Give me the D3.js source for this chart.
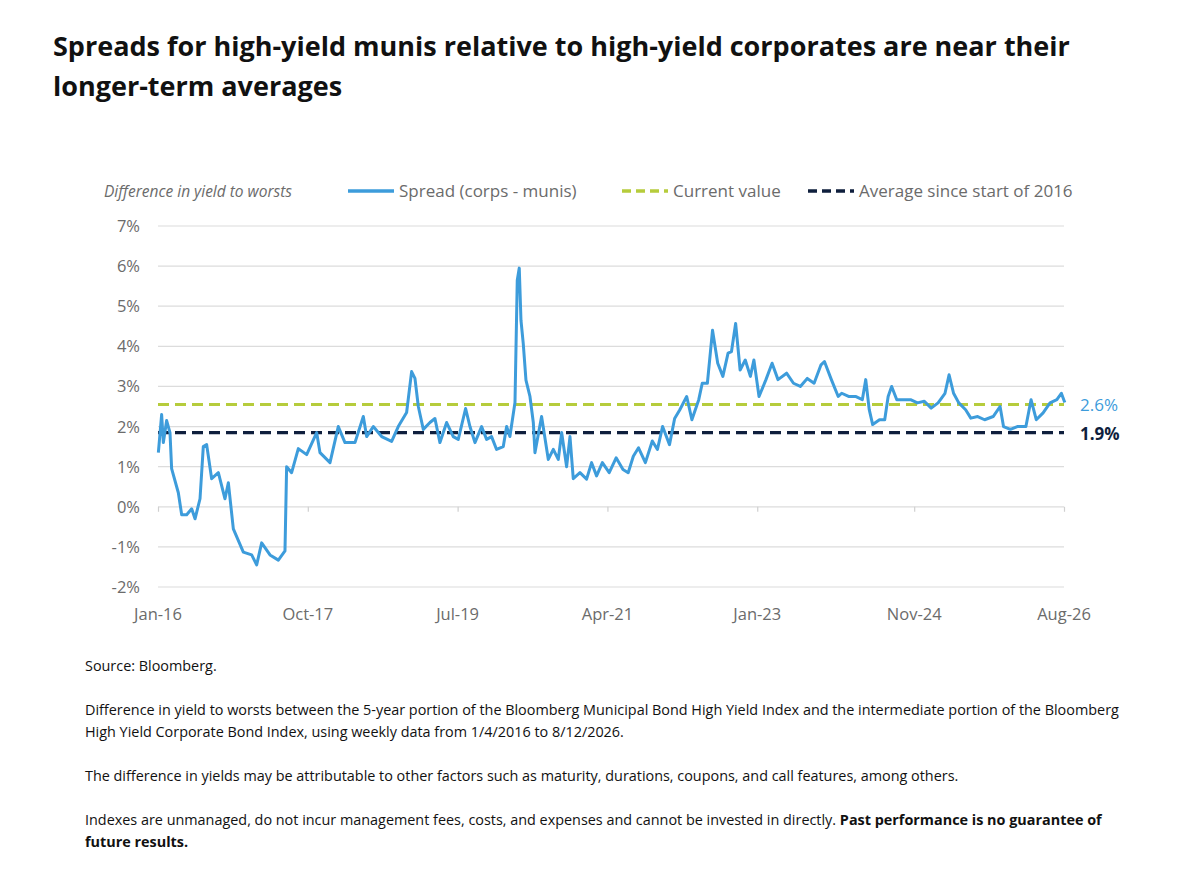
<!DOCTYPE html>
<html>
<head>
<meta charset="utf-8">
<script src="https://cdn.jsdelivr.net/npm/d3@7"></script>
<style>
  body { margin: 0; background: #fff; font-family: "Open Sans", "Noto Sans", sans-serif; }
  h1 { position: absolute; left: 53px; top: 26px; margin: 0; width: 1112px; font-size: 27px; line-height: 40px; font-weight: 700; color: #111; }
  .notes { position: absolute; left: 85px; top: 655px; width: 1045px; font-size: 14.4px; line-height: 22px; color: #111; }
  .notes p { margin: 0 0 22px 0; }
</style>
</head>
<body>
<h1>Spreads for high-yield munis relative to high-yield corporates are near their longer-term averages</h1>
<svg id="chart" width="1196" height="650" style="position:absolute;left:0;top:0"></svg>
<div class="notes">
  <p>Source: Bloomberg.</p>
  <p>Difference in yield to worsts between the 5-year portion of the Bloomberg Municipal Bond High Yield Index and the intermediate portion of the Bloomberg High Yield Corporate Bond Index, using weekly data from 1/4/2016 to 8/12/2026.</p>
  <p>The difference in yields may be attributable to other factors such as maturity, durations, coupons, and call features, among others.</p>
  <p>Indexes are unmanaged, do not incur management fees, costs, and expenses and cannot be invested in directly. <b>Past performance is no guarantee of future results.</b></p>
</div>
<script>
// Months since Jan 2016 for each sampled point
const months = [0.05,0.51,0.75,1.21,1.68,1.91,2.85,3.32,4.02,4.72,5.19,5.89,6.35,6.82,7.52,8.46,9.39,9.86,10.56,11.96,
  13.13,13.83,14.53,15.70,16.87,17.80,18.03,18.73,19.67,20.84,22.24,22.71,24.11,25.27,26.21,27.61,28.78,29.25,30.18,31.35,
  32.75,33.68,34.85,35.55,36.02,36.49,37.19,38.12,38.82,39.52,40.46,41.39,42.09,43.12,43.73,44.43,45.36,46.06,46.76,47.46,
  48.40,48.87,49.33,50.04,50.36,50.64,50.88,51.20,51.58,52.14,52.61,52.84,53.77,54.71,55.41,56.11,56.58,57.28,57.75,58.21,
  59.15,60.08,60.78,61.48,62.29,63.25,64.22,65.18,65.91,66.63,67.36,68.32,69.29,70.01,70.73,71.70,72.42,73.15,74.11,74.84,
  75.80,76.29,77.01,77.73,78.46,79.18,79.91,80.39,80.97,81.60,82.32,83.04,83.53,84.25,85.22,86.08,86.91,88.11,89.08,90.04,
  91.01,91.97,92.94,93.42,94.39,95.35,95.84,96.80,97.77,98.73,99.21,99.70,100.18,101.14,101.87,102.35,102.84,103.56,104.52,105.49,
  106.45,107.42,108.38,109.35,110.32,110.89,111.52,112.25,113.21,113.94,114.90,115.87,117.07,118.04,118.52,119.49,120.45,121.66,122.38,123.11,
  124.07,125.04,126.00,126.63,127.11];
// Spread (corps - munis), %
const spread = [1.35,2.3,1.6,2.15,1.85,0.95,0.35,-0.2,-0.2,-0.05,-0.3,0.2,1.5,1.55,0.7,0.85,0.2,0.6,-0.55,-1.13,
  -1.2,-1.45,-0.9,-1.2,-1.33,-1.1,1.0,0.85,1.45,1.3,1.85,1.35,1.1,2.0,1.6,1.6,2.25,1.75,2.0,1.75,
  1.63,2.0,2.35,3.37,3.2,2.5,1.93,2.1,2.2,1.6,2.1,1.75,1.68,2.45,2.0,1.6,2.0,1.68,1.75,1.43,
  1.5,2.0,1.75,2.6,5.65,5.95,4.65,4.07,3.16,2.75,2.1,1.35,2.25,1.18,1.43,1.18,1.85,1.0,1.75,0.7,
  0.85,0.69,1.1,0.77,1.1,0.85,1.22,0.93,0.85,1.26,1.47,1.1,1.64,1.43,2.0,1.55,2.2,2.42,2.75,2.17,
  2.67,3.08,3.08,4.4,3.58,3.25,3.83,3.87,4.57,3.41,3.66,3.25,3.66,2.75,3.17,3.58,3.17,3.33,3.08,3.0,
  3.2,3.08,3.54,3.62,3.17,2.75,2.83,2.75,2.75,2.67,3.17,2.42,2.05,2.17,2.17,2.75,3.0,2.67,2.67,2.67,
  2.59,2.63,2.46,2.59,2.83,3.29,2.83,2.59,2.42,2.21,2.25,2.17,2.25,2.5,2.0,1.93,2.0,2.0,2.67,2.17,
  2.34,2.59,2.67,2.83,2.6];
const currentValue = 2.6;
const averageValue = 1.9;
const yTicks = [-2, -1, 0, 1, 2, 3, 4, 5, 6, 7];
const xTickLabels = ["Jan-16", "Oct-17", "Jul-19", "Apr-21", "Jan-23", "Nov-24", "Aug-26"];
const xTickMonths = [0, 21, 42, 63, 84, 106, 127];

const blue = "#3d9cdb", green = "#b6cc3c", navy = "#0f1f3d", grey = "#6b6b6b";
const x0 = 158, x1 = 1064;

const svg = d3.select("#chart");
const x = d3.scaleLinear().domain([0, 127]).range([x0, x1]);
const y = d3.scaleLinear().domain([-2, 7]).range([587, 226]);

// gridlines
svg.append("g").selectAll("line").data(yTicks).enter().append("line")
  .attr("x1", x0).attr("x2", x1)
  .attr("y1", d => y(d)).attr("y2", d => y(d))
  .attr("stroke", "#dcdcdc").attr("stroke-width", 1.2);

// y labels
svg.append("g").selectAll("text").data(yTicks).enter().append("text")
  .attr("x", 140).attr("y", d => y(d) + 6)
  .attr("text-anchor", "end").attr("font-size", 16.5).attr("fill", grey)
  .text(d => d + "%");

// x axis on the 0% line
const xAxis = d3.axisBottom(x).tickValues(xTickMonths).tickSize(5).tickFormat("");
const gx = svg.append("g").attr("transform", `translate(0,${y(0)})`).call(xAxis);
gx.select(".domain").remove();
gx.selectAll("line").attr("stroke", "#d0d0d0").attr("stroke-width", 1.2);

svg.append("g").selectAll("text").data(xTickMonths).enter().append("text")
  .attr("x", d => x(d)).attr("y", 620)
  .attr("text-anchor", "middle").attr("font-size", 16.5).attr("fill", grey)
  .text((d, i) => xTickLabels[i]);

// reference lines
function refLine(v, color) {
  svg.append("line").attr("x1", x0).attr("x2", x1)
    .attr("y1", y(v) + 2).attr("y2", y(v) + 2)
    .attr("stroke", color).attr("stroke-width", 3.2).attr("stroke-dasharray", "11,6");
}
refLine(currentValue, green);
refLine(averageValue, navy);

// spread line
const pts = months.map((m, i) => [m, spread[i]]);
svg.append("path").datum(pts)
  .attr("fill", "none").attr("stroke", blue).attr("stroke-width", 3)
  .attr("stroke-linejoin", "round")
  .attr("d", d3.line().x(d => x(d[0])).y(d => y(d[1])));

// end labels
svg.append("text").attr("x", 1080).attr("y", y(currentValue) + 9)
  .attr("font-size", 17).attr("fill", blue).text(currentValue.toFixed(1) + "%");
svg.append("text").attr("x", 1080).attr("y", y(averageValue) + 9)
  .attr("font-size", 17).attr("font-weight", 700).attr("fill", navy).text(averageValue.toFixed(1) + "%");

// legend
const ly = 191;
svg.append("text").attr("x", 104).attr("y", ly + 6).attr("font-size", 15.5)
  .attr("font-style", "italic").attr("fill", grey).text("Difference in yield to worsts");
const legend = [
  { x: 348, label: "Spread (corps - munis)", color: blue, dash: null },
  { x: 622, label: "Current value", color: green, dash: "9,5" },
  { x: 808, label: "Average since start of 2016", color: navy, dash: "9,5" }
];
legend.forEach(l => {
  svg.append("line").attr("x1", l.x).attr("x2", l.x + 46).attr("y1", ly).attr("y2", ly)
    .attr("stroke", l.color).attr("stroke-width", 3.5).attr("stroke-dasharray", l.dash);
  svg.append("text").attr("x", l.x + 51).attr("y", ly + 6).attr("font-size", 17)
    .attr("fill", grey).text(l.label);
});
</script>
</body>
</html>
